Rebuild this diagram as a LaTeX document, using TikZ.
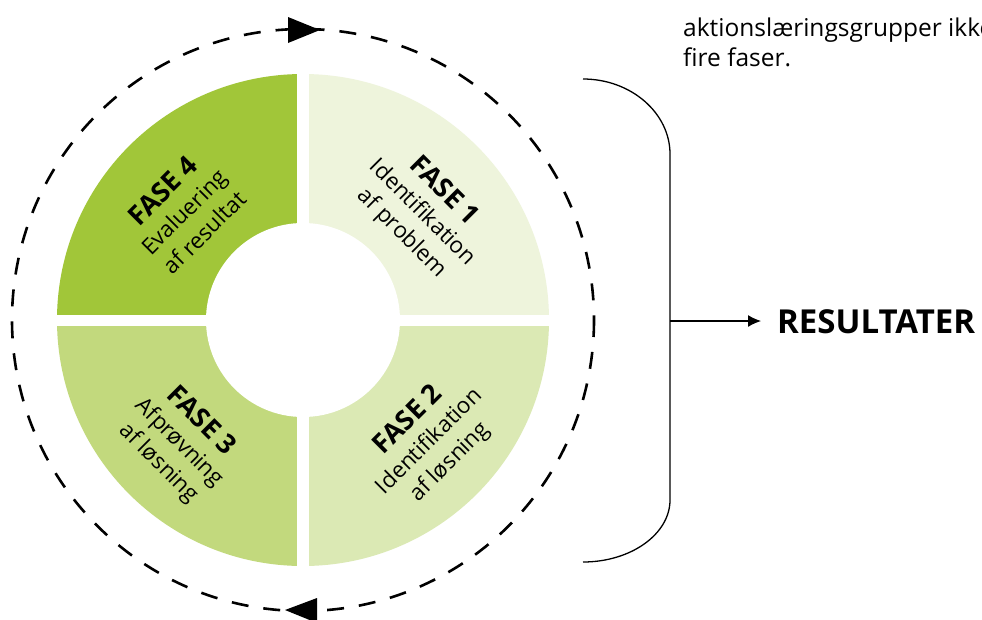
\documentclass[tikz,border=0pt]{standalone}
\usepackage{fontspec}
\setmainfont{Open Sans}
\usetikzlibrary{arrows.meta,calc}
\definecolor{qone}{RGB}{238,244,220}
\definecolor{qtwo}{RGB}{219,233,180}
\definecolor{qthree}{RGB}{194,217,125}
\definecolor{qfour}{RGB}{161,198,57}
\newcommand\fasefont{\fontsize{27}{30}\selectfont\bfseries}
\begin{document}
\begin{tikzpicture}[x=1pt,y=-1pt,
  lbl/.style={align=center,font=\fontsize{22.5}{29}\selectfont,inner sep=0pt},
  cyc/.style={line width=2.6pt,dash pattern=on 17pt off 15pt},
  tri/.style={fill=black},
  brace/.style={line width=1.3pt}]
\useasboundingbox (0,0) rectangle (982,619);
\fill[white] (0,0) rectangle (982,619);
\coordinate (c) at (303,320);
% quadrants
\fill[qfour]  (c) -- +(180:246) arc[start angle=180,end angle=270,radius=246] -- cycle;
\fill[qone]   (c) -- +(270:246) arc[start angle=270,end angle=360,radius=246] -- cycle;
\fill[qtwo]   (c) -- +(0:246) arc[start angle=0,end angle=90,radius=246] -- cycle;
\fill[qthree] (c) -- +(90:246) arc[start angle=90,end angle=180,radius=246] -- cycle;
\fill[white] (c) circle[radius=97];
\draw[white,line width=11pt] ($(c)+(-250,0)$) -- ($(c)+(250,0)$);
\draw[white,line width=12pt] ($(c)+(0,-250)$) -- ($(c)+(0,250)$);
% dashed cycle
\draw[cyc] (c) circle[radius=291];
\coordinate (toptip) at (320,30);
\coordinate (bottip) at (285,610);
\fill[tri] (toptip) -- ++(-32,-13) -- ++(0,26) -- cycle;
\fill[tri] (bottip) -- ++(32,-12) -- ++(0,25) -- cycle;
% labels
\node[lbl,rotate=45]  (f4) at (183,211) {{\fasefont FASE 4}\\Evaluering\\af resultat};
\node[lbl,rotate=-45] (f1) at (423,212) {{\fasefont FASE 1}\\Identifikation\\af problem};
\node[lbl,rotate=45]  (f2) at (429,441) {{\fasefont FASE 2}\\Identifikation\\af løsning};
\node[lbl,rotate=-45] (f3) at (180,442) {{\fasefont FASE 3}\\Afprøvning\\af løsning};
% brace
\coordinate (bt) at (583,79);
\coordinate (bb) at (583,562);
\coordinate (bm) at (670,321);
\draw[brace] (bt) .. controls (631,79) and (670,113) .. (670,154) -- (670,500)
  .. controls (670,534) and (631,562) .. (bb);
\node[anchor=west,inner sep=0pt,font=\fontsize{33}{36}\selectfont\bfseries] (res) at (777,322) {RESULTATER};
\draw[line width=1.3pt,-{Latex[length=13pt,width=12pt]},shorten >=16pt] (bm) -- (bm -| res.west);
% top-right text
\node[anchor=base west,inner sep=0pt,font=\fontsize{24.5}{28}\selectfont] (t1) at (683,36) {aktionslæringsgrupper ikke};
\node[anchor=base west,inner sep=0pt,font=\fontsize{24.5}{28}\selectfont] (t2) at (683,66) {fire faser.};
\end{tikzpicture}
\end{document}
